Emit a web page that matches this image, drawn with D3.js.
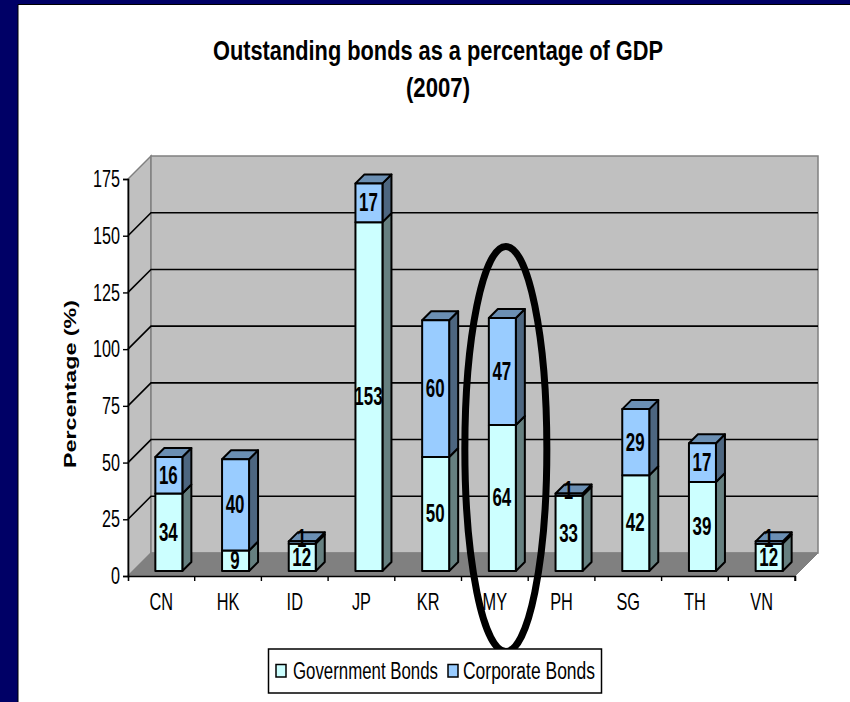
<!DOCTYPE html>
<html><head><meta charset="utf-8">
<script src="https://cdn.jsdelivr.net/npm/d3@7"></script>
<style>html,body{margin:0;padding:0;background:#fff}svg{display:block}text{font-family:"Liberation Sans",Arial,sans-serif}</style>
</head><body><svg id="c" width="850" height="702"></svg>
<script>
const titleLines = ["Outstanding bonds as a percentage of GDP", "(2007)"];
const yAxisTitle = "Percentage (%)";
const categories = ["CN","HK","ID","JP","KR","MY","PH","SG","TH","VN"];
const governmentBonds = [34,9,12,153,50,64,33,42,39,12];
const corporateBonds = [16,40,1,17,60,47,1,29,17,1];
const yTicks = [0,25,50,75,100,125,150,175];
const seriesNames = ["Government Bonds","Corporate Bonds"];
const highlighted = "MY";

const svg = d3.select("#c");
svg.append("rect").attr("width",850).attr("height",702).attr("fill","#fff");
svg.append("rect").attr("width",850).attr("height",4).attr("fill","#000066");
svg.append("rect").attr("width",18).attr("height",702).attr("fill","#000066");
svg.append("path").attr("d","M18,702V4.5H850").attr("fill","none").attr("stroke","#000").attr("stroke-width",1);

const y = d3.scaleLinear().domain([0,175]).range([576,179]);
const x = d3.scaleBand().domain(categories).range([128,795]).padding(0);
const wallD = 23, barD = 9, barW = 27;
const yBar = d3.scaleLinear().domain([0,175]).range([571,172]);

const wall="#c0c0c0", floor="#808080", wallEdge="#808080";
svg.append("path").attr("d",`M128,${y(0)}L${128+wallD},${y(0)-wallD}V${y(175)-wallD}L128,${y(175)}Z`)
  .attr("fill",wall).attr("stroke",wallEdge).attr("stroke-width",1.5);
svg.append("rect").attr("x",128+wallD).attr("y",y(175)-wallD).attr("width",667).attr("height",397)
  .attr("fill",wall).attr("stroke",wallEdge).attr("stroke-width",1.5);
svg.append("path").attr("d",`M128,${y(0)}L${128+wallD},${y(0)-wallD}H${795+wallD}L795,${y(0)}Z`)
  .attr("fill",floor).attr("stroke",wallEdge).attr("stroke-width",1);
svg.append("g").selectAll("path").data(yTicks.filter(t=>t>0&&t<175)).join("path")
  .attr("d",t=>`M128,${y(t)}L${128+wallD},${y(t)-wallD}H${795+wallD}`)
  .attr("fill","none").attr("stroke","#000").attr("stroke-width",1.6);

const yAxis = d3.axisLeft(y).tickValues(yTicks).tickSize(5).tickPadding(3);
const gy = svg.append("g").attr("transform","translate(128,0)").call(yAxis);
const xAxis = d3.axisBottom(x).tickSize(5).tickPadding(12).tickSizeOuter(5);
const gx = svg.append("g").attr("transform",`translate(0,${y(0)})`).call(xAxis);
gx.selectAll(".tick line").attr("x1",x.bandwidth()/2).attr("x2",x.bandwidth()/2);
[gx,gy].forEach(g=>{
  g.selectAll(".domain").attr("stroke","#000").attr("stroke-width",1.6);
  g.selectAll("line").attr("stroke","#000").attr("stroke-width",1.4);
  g.selectAll("text").attr("fill","#000").style("font-size","24px").attr("font-family","Liberation Sans");
});
gy.selectAll("text").attr("textLength",function(){return this.textContent.length*9}).attr("lengthAdjust","spacingAndGlyphs");
gx.selectAll("text").each(function(){
  d3.select(this).attr("textLength",this.getComputedTextLength()*0.68).attr("lengthAdjust","spacingAndGlyphs");
});

const colors = {
  gov:{front:"#ccffff",top:"#a3cccc",side:"#668080"},
  corp:{front:"#99ccff",top:"#6b8fb3",side:"#4d6680"}
};
const stacks = categories.map((c,i)=>({c,gov:governmentBonds[i],corp:corporateBonds[i]}));
const bars = svg.append("g").attr("stroke","#000").attr("stroke-width",2).attr("stroke-linejoin","round");
function seg(g,x0,v0,v1,col,drawTop){
  const yb = yBar(v0), yt = yBar(v1);
  g.append("path").attr("d",`M${x0+barW},${yb}L${x0+barW+barD},${yb-barD}V${yt-barD}L${x0+barW},${yt}Z`).attr("fill",col.side);
  if(drawTop) g.append("path").attr("d",`M${x0},${yt}L${x0+barD},${yt-barD}H${x0+barW+barD}L${x0+barW},${yt}Z`).attr("fill",col.top);
  g.append("rect").attr("x",x0).attr("y",yt).attr("width",barW).attr("height",yb-yt).attr("fill",col.front);
}
stacks.forEach(s=>{
  const x0 = x(s.c)+x.bandwidth()/2-barW/2+7.5;
  const g = bars.append("g");
  seg(g,x0,0,s.gov,colors.gov,false);
  seg(g,x0,s.gov,s.gov+s.corp,colors.corp,true);
});
const labels = svg.append("g").attr("text-anchor","middle").attr("font-weight","bold").style("font-size","26px").attr("fill","#000");
function lab(s,v0,v){
  const cx = x(s.c)+x.bandwidth()/2+7;
  const t = labels.append("text").attr("x",cx).attr("y",yBar(v0+v/2)-(v<3?5:1)).attr("dy","0.36em").text(v);
  t.attr("textLength",String(v).length*9.4).attr("lengthAdjust","spacingAndGlyphs");
}
stacks.forEach(s=>{lab(s,0,s.gov);lab(s,s.gov,s.corp);});

const my = x(highlighted)+x.bandwidth()/2;
svg.append("ellipse").attr("cx",my+11).attr("cy",449).attr("rx",41).attr("ry",202.5)
  .attr("fill","none").attr("stroke","#000").attr("stroke-width",7);

svg.append("g").attr("text-anchor","middle").attr("font-weight","bold").style("font-size","27px")
 .selectAll("text").data(titleLines).join("text")
 .attr("x",438).attr("y",(d,i)=>60+i*37).text(d=>d)
 .attr("textLength",(d,i)=>i==0?450:64).attr("lengthAdjust","spacingAndGlyphs");
svg.append("text").attr("transform","translate(76,384) rotate(-90)").attr("text-anchor","middle")
 .attr("font-weight","bold").style("font-size","17px").text(yAxisTitle)
 .attr("textLength",168).attr("lengthAdjust","spacingAndGlyphs");

const lg = svg.append("g");
lg.append("rect").attr("x",268.5).attr("y",649).attr("width",333).attr("height",44).attr("fill","#fff").attr("stroke","#000").attr("stroke-width",1.5);
const lx=[276,448], tx=[293,463], tw=[145,132];
seriesNames.forEach((n,i)=>{
  lg.append("rect").attr("x",lx[i]).attr("y",664.5).attr("width",10).attr("height",12.5)
    .attr("fill",i?colors.corp.front:colors.gov.front).attr("stroke","#000").attr("stroke-width",1.5);
  lg.append("text").attr("x",tx[i]).attr("y",679).style("font-size","23px").text(n)
    .attr("textLength",tw[i]).attr("lengthAdjust","spacingAndGlyphs");
});
</script></body></html>
